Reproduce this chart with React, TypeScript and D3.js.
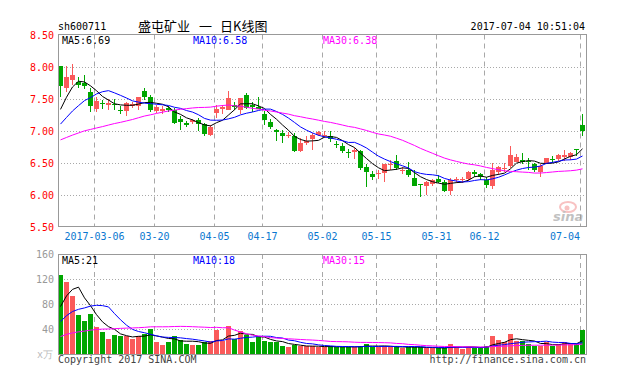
import React from "react";
import * as d3 from "d3";

// ---------- data ----------
const opens = [8.01, 7.66, 7.79, 7.76, 7.74, 7.60, 7.33, 7.43, 7.40, 7.42, 7.32, 7.30, 7.38, 7.38, 7.61, 7.52, 7.31, 7.31, 7.35, 7.32, 7.18, 7.12, 7.13, 7.17, 7.10, 6.93, 7.28, 7.33, 7.32, 7.40, 7.32, 7.56, 7.40, 7.36, 7.26, 7.13, 7.01, 6.96, 6.91, 6.91, 6.68, 6.81, 6.86, 6.93, 6.91, 6.91, 6.79, 6.76, 6.67, 6.66, 6.68, 6.43, 6.32, 6.32, 6.34, 6.46, 6.53, 6.36, 6.39, 6.26, 6.16, 6.14, 6.17, 6.24, 6.20, 6.05, 6.22, 6.23, 6.25, 6.35, 6.32, 6.22, 6.13, 6.35, 6.41, 6.44, 6.51, 6.54, 6.53, 6.48, 6.35, 6.49, 6.56, 6.56, 6.58, 6.58, 6.71, 7.08];
const highs = [8.01, 8.01, 8.04, 7.83, 7.87, 7.66, 7.53, 7.48, 7.49, 7.49, 7.38, 7.45, 7.45, 7.52, 7.66, 7.56, 7.40, 7.38, 7.38, 7.35, 7.22, 7.15, 7.18, 7.19, 7.12, 7.08, 7.40, 7.40, 7.62, 7.44, 7.51, 7.58, 7.45, 7.52, 7.30, 7.18, 7.03, 7.01, 6.97, 6.96, 6.88, 6.91, 6.96, 6.99, 7.00, 7.00, 6.84, 6.80, 6.71, 6.72, 6.70, 6.47, 6.37, 6.39, 6.48, 6.54, 6.61, 6.43, 6.51, 6.39, 6.16, 6.21, 6.24, 6.31, 6.22, 6.26, 6.27, 6.27, 6.36, 6.39, 6.34, 6.28, 6.49, 6.44, 6.49, 6.75, 6.63, 6.65, 6.57, 6.49, 6.47, 6.57, 6.60, 6.63, 6.70, 6.66, 6.71, 7.25];
const lows = [7.53, 7.60, 7.71, 7.66, 7.65, 7.29, 7.29, 7.34, 7.32, 7.32, 7.26, 7.22, 7.35, 7.32, 7.48, 7.29, 7.27, 7.26, 7.29, 7.10, 7.01, 7.06, 7.10, 7.00, 6.92, 6.91, 7.19, 7.25, 7.32, 7.32, 7.25, 7.33, 7.29, 7.34, 7.08, 7.03, 6.84, 6.81, 6.88, 6.67, 6.67, 6.78, 6.70, 6.91, 6.88, 6.82, 6.73, 6.65, 6.57, 6.56, 6.39, 6.11, 6.23, 6.25, 6.20, 6.39, 6.39, 6.32, 6.28, 6.14, 5.96, 6.00, 6.14, 6.18, 6.04, 6.00, 6.18, 6.18, 6.21, 6.28, 6.23, 6.10, 6.09, 6.31, 6.35, 6.42, 6.51, 6.47, 6.39, 6.35, 6.28, 6.47, 6.49, 6.52, 6.52, 6.54, 6.60, 6.92];
const closes = [7.69, 7.84, 7.86, 7.71, 7.69, 7.39, 7.46, 7.41, 7.43, 7.40, 7.30, 7.43, 7.41, 7.52, 7.52, 7.32, 7.36, 7.33, 7.32, 7.12, 7.13, 7.09, 7.17, 7.10, 6.95, 7.05, 7.34, 7.36, 7.51, 7.36, 7.51, 7.35, 7.36, 7.34, 7.16, 7.05, 6.97, 6.91, 6.93, 6.68, 6.81, 6.84, 6.93, 6.97, 6.93, 6.86, 6.77, 6.68, 6.66, 6.70, 6.42, 6.35, 6.28, 6.34, 6.47, 6.47, 6.41, 6.39, 6.30, 6.14, 6.15, 6.19, 6.22, 6.19, 6.05, 6.22, 6.25, 6.25, 6.35, 6.32, 6.28, 6.15, 6.39, 6.43, 6.42, 6.62, 6.59, 6.51, 6.51, 6.38, 6.45, 6.57, 6.54, 6.61, 6.61, 6.65, 6.70, 7.00];
const volumes = [126.9, 114.7, 92.3, 62.9, 52.3, 64.5, 42.7, 34.7, 24.5, 30.9, 28.3, 28.3, 24.5, 29.3, 32.5, 39.5, 18.7, 14.9, 18.7, 29.3, 22.9, 16.5, 14.9, 14.9, 18.7, 20.3, 38.9, 20.3, 45.3, 24.5, 37.3, 30.9, 18.7, 27.2, 21.3, 18.7, 18.7, 13.3, 11.7, 14.4, 12.3, 12.3, 12.3, 11.2, 11.2, 12.3, 11.2, 11.2, 11.2, 11.2, 13.3, 16.5, 11.2, 11.2, 12.3, 11.2, 12.3, 9.1, 11.2, 11.2, 11.2, 9.1, 9.1, 9.1, 9.6, 16.5, 11.2, 8.5, 11.2, 9.1, 11.2, 13.3, 28.3, 21.9, 18.7, 32.5, 20.3, 21.3, 16.5, 13.3, 13.0, 19.0, 13.3, 16.5, 19.0, 16.5, 16.5, 38.0];

// sessions before the visible window (only feed the moving averages)
const priorCloses = [6.70, 6.75, 6.72, 6.68, 6.74, 6.78, 6.76, 6.71, 6.69, 6.73, 6.77, 6.74, 6.70, 6.72, 6.75, 6.71, 6.74, 6.76, 6.72, 6.73, 6.80, 6.85, 6.88, 6.90, 6.92, 6.89, 7.06, 7.26, 7.75];
const priorVolumes = [15, 18, 14, 16, 17, 13, 15, 19, 16, 14, 17, 15, 18, 16, 14, 17, 16, 15, 19, 16, 22, 25, 28, 30, 35, 30, 40, 45, 138];

const tickIndex = [6, 16, 26, 34, 44, 53, 63, 71, 87];
const tickLabels = ["2017-03-06", "03-20", "04-05", "04-17", "05-02", "05-15", "05-31", "06-12", "07-04"];
const priceTicks = [8.5, 8.0, 7.5, 7.0, 6.5, 6.0, 5.5];
const volumeTicks = [160, 120, 80, 40];
const priceLegend = ["MA5:6.69", "MA10:6.58", "MA30:6.38"];
const volumeLegend = ["MA5:21", "MA10:18", "MA30:15"];
const maPeriods = [5, 10, 30];
const titleParts = ["盛屯矿业", "一", "日K线图"];

// ---------- styles ----------
const W = 627, H = 379;
const L = 58, R = 586;
const PT = 34.5, PB = 226.5;
const VT = 254, VB = 354;
const UP = "#fa5a5a", DOWN = "#00a600";
const MA_COLORS = ["#000000", "#0000ff", "#ff00ff"];
const MONO = "'DejaVu Sans Mono', 'Liberation Mono', monospace";
const GRID = "#a8a8a8";

function movingAverage(prior: number[], values: number[], n: number) {
  const all = prior.concat(values);
  const off = prior.length;
  return values.map((_, i) => d3.mean(all.slice(off + i - n + 1, off + i + 1)) as number);
}

export default function App() {
  const n = closes.length;
  const x = d3.scaleLinear().domain([0, n]).range([L, R]);
  const y = d3.scaleLinear().domain([5.5, 8.5]).range([PB, PT]);
  const vy = d3.scaleLinear().domain([0, 160]).range([VB, VT]);
  const cx = (i: number) => x(i) + 2.5;

  const priceLine = d3.line<number>().x((_, i) => cx(i)).y((d) => y(d));
  const volLine = d3.line<number>().x((_, i) => cx(i)).y((d) => vy(d));

  const priceMA = maPeriods.map((p) => movingAverage(priorCloses, closes, p));
  const volMA = maPeriods.map((p) => movingAverage(priorVolumes, volumes, p));
  const legendX = [62, 193, 323];
  const titleX = [138, 199, 220];

  return (
    <svg width={W} height={H} style={{ position: "absolute", left: 0, top: 0, background: "#fff" }} fontFamily={MONO} fontSize={10}>
      <rect x={0} y={0} width={W} height={H} fill="#fff" />
      {/* header */}
      <text x={L} y={30} fill="#000">sh600711</text>
      {titleParts.map((s, k) => (
        <text key={"t" + k} x={titleX[k]} y={31} fontFamily="'Noto Sans CJK SC', sans-serif" fontSize={13} fill="#000">{s}</text>
      ))}
      <text x={R - 1} y={30} textAnchor="end" fill="#000">2017-07-04 10:51:04</text>

      {/* price grid */}
      {priceTicks.slice(1, -1).map((t) => (
        <line key={"pg" + t} x1={L} x2={R} y1={Math.round(y(t)) + 0.5} y2={Math.round(y(t)) + 0.5} stroke={GRID} strokeDasharray="1,2" />
      ))}
      {tickIndex.map((ti) => (
        <line key={"pv" + ti} x1={x(ti) + 0.5} x2={x(ti) + 0.5} y1={PT} y2={PB} stroke={GRID} strokeDasharray="5,4" />
      ))}
      {priceTicks.map((t) => (
        <text key={"pl" + t} x={54} y={Math.round(y(t)) + 4} textAnchor="end" fill="#ff0000">{t.toFixed(2)}</text>
      ))}

      {/* sina watermark */}
      <g opacity={0.6}>
        <ellipse cx={568} cy={207} rx={8} ry={5} fill="none" stroke="#f49a9a" strokeWidth={2} />
        <circle cx={567} cy={208} r={2.5} fill="#f49a9a" />
        <text x={553} y={221} fontFamily="'DejaVu Sans', sans-serif" fontSize={13} fontWeight="bold" fontStyle="italic" fill="#999">sina</text>
      </g>

      {/* candles */}
      {closes.map((c, i) => {
        const o = opens[i];
        const up = c >= o;
        const col = up ? UP : DOWN;
        const top = Math.round(y(Math.max(o, c)));
        const bot = Math.round(y(Math.min(o, c)));
        return (
          <g key={"c" + i}>
            <line x1={cx(i)} x2={cx(i)} y1={Math.round(y(highs[i]))} y2={Math.round(y(lows[i]))} stroke={col} />
            <rect x={x(i)} y={top} width={5} height={Math.max(1, bot - top)} fill={col} />
          </g>
        );
      })}
      {priceMA.map((arr, k) => (
        <path key={"pma" + k} d={priceLine(arr) || ""} fill="none" stroke={MA_COLORS[k]} strokeWidth={1} />
      ))}
      <rect x={L + 0.5} y={PT} width={R - L} height={PB - PT} fill="none" stroke="#999" />
      {priceLegend.map((s, k) => (
        <text key={"pleg" + k} x={legendX[k]} y={44} fill={MA_COLORS[k]}>{s}</text>
      ))}

      {/* date axis */}
      {tickIndex.map((ti, k) => {
        const lbl = tickLabels[k];
        const w = lbl.length * 6.02;
        let lx = x(ti) + 0.5;
        let anchor: "middle" | "end" = "middle";
        if (lx + w / 2 > R - 2) { lx = R - 6; anchor = "end"; }
        return (
          <text key={"dl" + ti} x={lx} y={240} textAnchor={anchor} fill="#0a77d0">{lbl}</text>
        );
      })}

      {/* volume panel */}
      {volumeTicks.slice(1).map((t) => (
        <line key={"vg" + t} x1={L} x2={R} y1={Math.round(vy(t)) + 0.5} y2={Math.round(vy(t)) + 0.5} stroke={GRID} strokeDasharray="1,2" />
      ))}
      {tickIndex.map((ti) => (
        <line key={"vv" + ti} x1={x(ti) + 0.5} x2={x(ti) + 0.5} y1={VT} y2={VB} stroke={GRID} strokeDasharray="5,4" />
      ))}
      {volumeTicks.map((t) => (
        <text key={"vl" + t} x={54} y={Math.round(vy(t)) + 4} textAnchor="end" fill="#999">{t}</text>
      ))}
      <text x={37} y={358} fill="#bbb" fontSize={10}>x万</text>
      {volumes.map((v, i) => {
        const up = closes[i] >= opens[i];
        const t = Math.round(vy(v));
        return <rect key={"v" + i} x={x(i)} y={t} width={5} height={VB - t} fill={up ? UP : DOWN} />;
      })}
      {volMA.map((arr, k) => (
        <path key={"vma" + k} d={volLine(arr) || ""} fill="none" stroke={MA_COLORS[k]} strokeWidth={1} />
      ))}
      <rect x={L + 0.5} y={VT + 0.5} width={R - L} height={VB - VT} fill="none" stroke="#999" />
      {volumeLegend.map((s, k) => (
        <text key={"vleg" + k} x={legendX[k]} y={264} fill={MA_COLORS[k]}>{s}</text>
      ))}

      {/* footer */}
      <text x={L} y={363} fill="#444">Copyright 2017 SINA.COM</text>
      <text x={R} y={363} textAnchor="end" fill="#444">http://finance.sina.com.cn</text>
    </svg>
  );
}
